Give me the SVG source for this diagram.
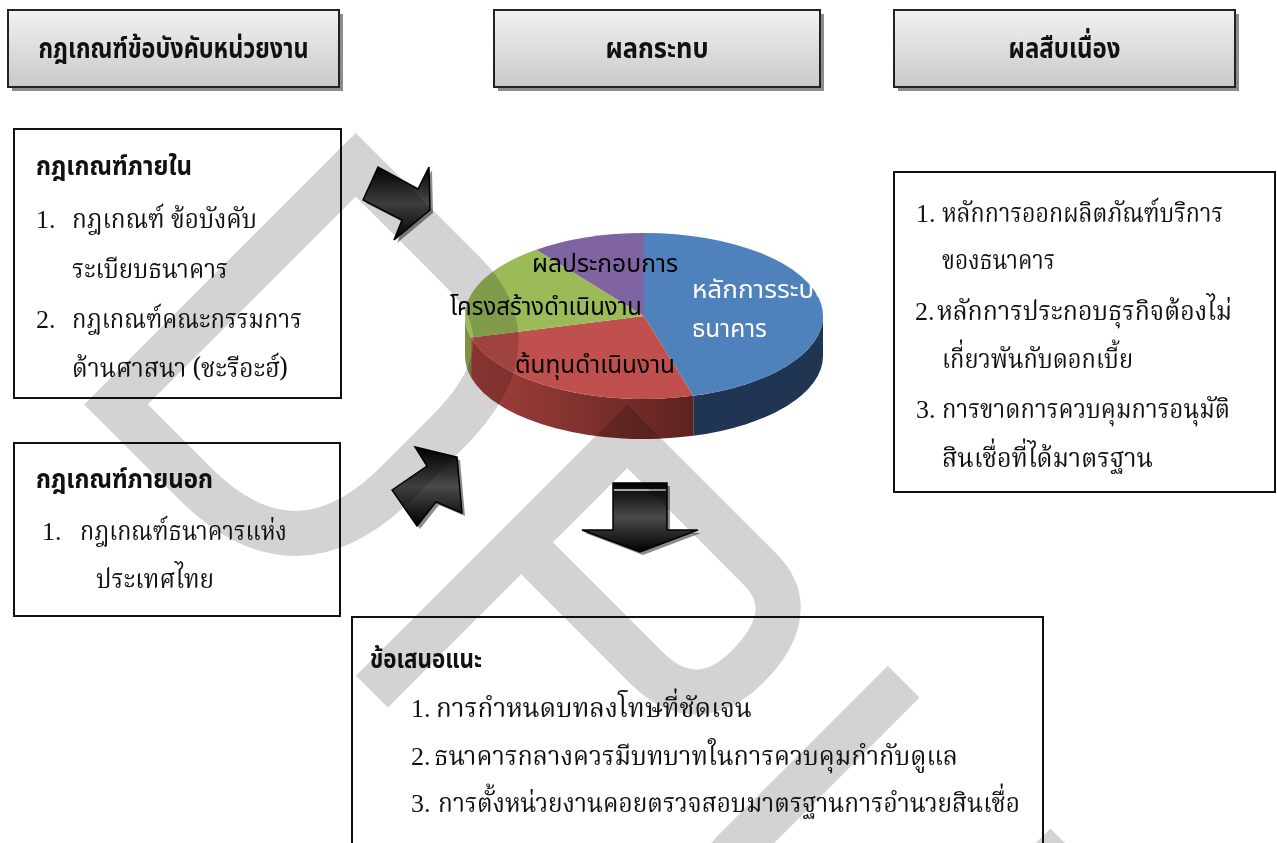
<svg xmlns="http://www.w3.org/2000/svg" width="1277" height="843" viewBox="0 0 1277 843">
<defs>
<linearGradient id="hdr" x1="0" y1="0" x2="0" y2="1"><stop offset="0" stop-color="#f2f2f2"/><stop offset="1" stop-color="#c9c9c9"/></linearGradient>
<linearGradient id="blk" x1="0" y1="0" x2="0" y2="1"><stop offset="0" stop-color="#000"/><stop offset="0.5" stop-color="#4a4a4a"/><stop offset="1" stop-color="#000"/></linearGradient>
<linearGradient id="redside" x1="0" y1="0" x2="1" y2="0"><stop offset="0" stop-color="#a3403c"/><stop offset="1" stop-color="#5e2220"/></linearGradient>
<clipPath id="pieclip"><rect x="440" y="220" width="378" height="240"/></clipPath>
<style>
.hb{fill:url(#hdr);stroke:#222;stroke-width:2}
.sh{fill:#8c8c8c}
.box{fill:none;stroke:#111;stroke-width:2}
.ht{font-family:'Noto Sans Thai','Noto Serif Thai','Noto Looped Thai','Loma','Garuda','Liberation Sans',sans-serif;font-weight:bold;font-size:29px;fill:#111;text-anchor:middle}
.bt{font-family:'Noto Sans Thai','Noto Serif Thai','Noto Looped Thai','Loma','Garuda','Liberation Sans',sans-serif;font-weight:bold;font-size:27px;fill:#111}
.t{font-family:'Noto Serif Thai','Noto Looped Thai','Noto Sans Thai','Kinnari','Norasi','Liberation Serif',serif;font-size:27px;fill:#111}
.n{font-family:'Liberation Serif',serif;font-size:26px;fill:#111}
.pl{font-family:'Noto Sans Thai','Loma','Garuda','DejaVu Sans',sans-serif;font-size:24px;fill:#000}
.arr{fill:url(#blk);stroke:#000;stroke-width:1.5;stroke-linejoin:miter}
.wm{fill:none;stroke:#d3d3d3;stroke-width:45;stroke-linejoin:miter;stroke-miterlimit:10}
</style>
</defs>
<rect width="1277" height="843" fill="#fff"/>

<g id="header-rules">
<rect class="sh" x="12" y="14" width="331" height="77"/>
<rect class="hb" x="8" y="10" width="331" height="77"/>
<text class="ht" x="173.5" y="58" textLength="270" lengthAdjust="spacingAndGlyphs">กฎเกณฑ์ข้อบังคับหน่วยงาน</text>
</g>
<g id="header-impact">
<rect class="sh" x="498" y="14" width="326" height="77"/>
<rect class="hb" x="494" y="10" width="326" height="77"/>
<text class="ht" x="657" y="58" textLength="103" lengthAdjust="spacingAndGlyphs">ผลกระทบ</text>
</g>
<g id="header-consequence">
<rect class="sh" x="898" y="14" width="341" height="77"/>
<rect class="hb" x="894" y="10" width="341" height="77"/>
<text class="ht" x="1064.5" y="58" textLength="112" lengthAdjust="spacingAndGlyphs">ผลสืบเนื่อง</text>
</g>

<g id="internal-rules">
<rect class="box" x="14" y="129" width="327" height="269"/>
<text class="bt" x="36" y="175" textLength="156" lengthAdjust="spacingAndGlyphs">กฎเกณฑ์ภายใน</text>
<text class="n" x="36" y="228">1.</text>
<text class="t" x="72" y="228" textLength="185" lengthAdjust="spacingAndGlyphs">กฎเกณฑ์ ข้อบังคับ</text>
<text class="t" x="72" y="278" textLength="156" lengthAdjust="spacingAndGlyphs">ระเบียบธนาคาร</text>
<text class="n" x="36" y="328">2.</text>
<text class="t" x="72" y="328" textLength="230" lengthAdjust="spacingAndGlyphs">กฎเกณฑ์คณะกรรมการ</text>
<text class="t" x="72" y="377" textLength="216" lengthAdjust="spacingAndGlyphs">ด้านศาสนา (ชะรีอะฮ์)</text>
</g>

<g id="external-rules">
<rect class="box" x="14" y="443" width="326" height="173"/>
<text class="bt" x="36" y="488" textLength="177" lengthAdjust="spacingAndGlyphs">กฎเกณฑ์ภายนอก</text>
<text class="n" x="42" y="540">1.</text>
<text class="t" x="80" y="540" textLength="207" lengthAdjust="spacingAndGlyphs">กฎเกณฑ์ธนาคารแห่ง</text>
<text class="t" x="96" y="588" textLength="118" lengthAdjust="spacingAndGlyphs">ประเทศไทย</text>
</g>

<g id="consequences">
<rect class="box" x="894" y="172" width="381" height="320"/>
<text class="n" x="916" y="222">1.</text>
<text class="t" x="942" y="222" textLength="281" lengthAdjust="spacingAndGlyphs">หลักการออกผลิตภัณฑ์บริการ</text>
<text class="t" x="942" y="269" textLength="113" lengthAdjust="spacingAndGlyphs">ของธนาคาร</text>
<text class="n" x="915" y="320">2.</text>
<text class="t" x="937" y="320" textLength="295" lengthAdjust="spacingAndGlyphs">หลักการประกอบธุรกิจต้องไม่</text>
<text class="t" x="942" y="368" textLength="191" lengthAdjust="spacingAndGlyphs">เกี่ยวพันกับดอกเบี้ย</text>
<text class="n" x="916" y="418">3.</text>
<text class="t" x="942" y="418" textLength="288" lengthAdjust="spacingAndGlyphs">การขาดการควบคุมการอนุมัติ</text>
<text class="t" x="942" y="467" textLength="211" lengthAdjust="spacingAndGlyphs">สินเชื่อที่ได้มาตรฐาน</text>
</g>

<g id="recommendations">
<rect class="box" x="352" y="617" width="691" height="240"/>
<text class="bt" x="370" y="668" textLength="112" lengthAdjust="spacingAndGlyphs">ข้อเสนอแนะ</text>
<text class="n" x="411" y="717">1.</text>
<text class="t" x="436" y="717" textLength="316" lengthAdjust="spacingAndGlyphs">การกำหนดบทลงโทษที่ชัดเจน</text>
<text class="n" x="411" y="765">2.</text>
<text class="t" x="434" y="765" textLength="524" lengthAdjust="spacingAndGlyphs">ธนาคารกลางควรมีบทบาทในการควบคุมกำกับดูแล</text>
<text class="n" x="411" y="812">3.</text>
<text class="t" x="438" y="812" textLength="582" lengthAdjust="spacingAndGlyphs">การตั้งหน่วยงานคอยตรวจสอบมาตรฐานการอำนวยสินเชื่อ</text>
</g>

<g id="impact-pie">
<path d="M823,316 A179,83 0 0 1 693.3,395.8 L693.3,435.8 A179,83 0 0 0 823,356 Z" fill="#1f3552"/>
<path d="M693.3,395.8 A179,83 0 0 1 471.1,337.5 L471.1,377.5 A179,83 0 0 0 693.3,435.8 Z" fill="url(#redside)"/>
<path d="M471.1,337.5 A179,83 0 0 1 465,316 L465,356 A179,83 0 0 0 471.1,377.5 Z" fill="#7a9443"/>
<path d="M644,316 L644,233 A179,83 0 0 1 693.3,395.8 Z" fill="#4f81bd"/>
<path d="M644,316 L693.3,395.8 A179,83 0 0 1 471.1,337.5 Z" fill="#c0504d"/>
<path d="M644,316 L471.1,337.5 A179,83 0 0 1 536.3,249.7 Z" fill="#9bbb59"/>
<path d="M644,316 L536.3,249.7 A179,83 0 0 1 644,233 Z" fill="#8064a2"/>
<text class="pl" x="532" y="272" textLength="146" lengthAdjust="spacingAndGlyphs">ผลประกอบการ</text>
<text class="pl" x="450" y="315" textLength="192" lengthAdjust="spacingAndGlyphs">โครงสร้างดำเนินงาน</text>
<text class="pl" x="515" y="373" textLength="160" lengthAdjust="spacingAndGlyphs">ต้นทุนดำเนินงาน</text>
<g clip-path="url(#pieclip)">
<text class="pl" x="692" y="298" style="fill:#fff" textLength="138" lengthAdjust="spacingAndGlyphs">หลักการระบบ</text>
</g>
<text class="pl" x="692" y="337" style="fill:#fff" textLength="75" lengthAdjust="spacingAndGlyphs">ธนาคาร</text>
</g>

<g id="connectors">
<polygon class="sh" points="366,203 381,170 421,192 432,170 433,213 397,243 405,223"/>
<polygon class="arr" points="363,200 378,167 418,189 429,167 430,210 394,240 402,220"/>
<polygon class="sh" points="395,493 430,469 418,450 460,460 465,516 439,505 420,529"/>
<polygon class="arr" points="392,490 427,466 415,447 457,457 462,513 436,502 417,526"/>
<polygon class="sh" points="616,486 670,486 670,533 701,533 643,555 585,533 616,533"/>
<polygon class="arr" points="613,483 667,483 667,530 698,530 640,552 582,530 613,530"/>
<line x1="614" y1="490" x2="666" y2="490" stroke="#ddd" stroke-width="1.5"/>
</g>

<g id="watermark" style="mix-blend-mode:multiply">
<g transform="rotate(45)">
<path class="wm" d="M368,-135 L368,204 L480,204 C580,204 622,150 622,60 L622,-10 C622,-80 600,-135 520,-135 Z"/>
<path class="wm" d="M752,226 L752,-135 L940,-135 C985,-135 1000,-100 1000,-57 C1000,-10 975,15 930,15 L752,15"/>
<path class="wm" d="M1121,-157 L1121,80 C1121,150 1175,204 1236,204 C1297,204 1351,150 1351,80 L1351,-157"/>
</g>
</g>
</svg>
